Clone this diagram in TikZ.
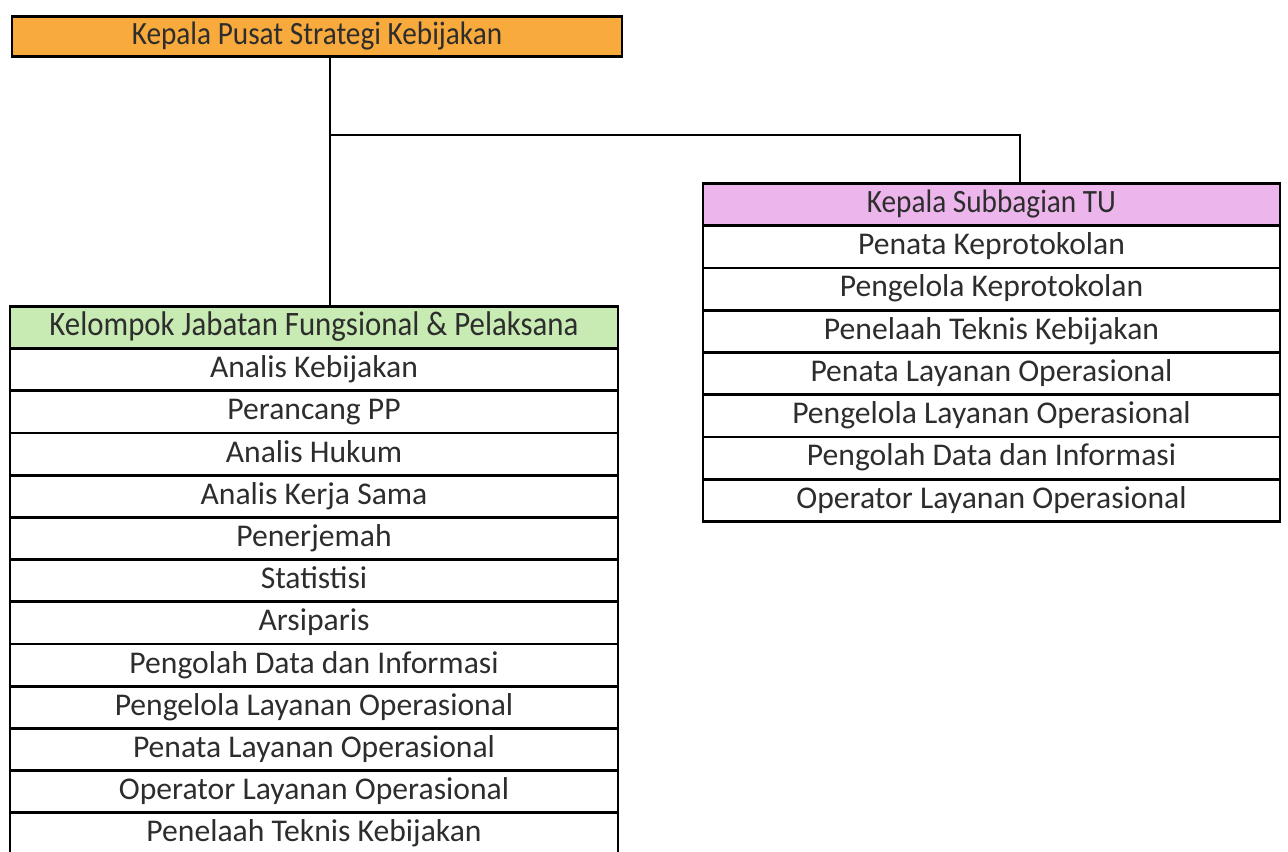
\documentclass[tikz,border=0pt]{standalone}
\usepackage{fontspec}
\setmainfont{Carlito}
\newfontfamily\headfont[FakeStretch=0.9]{Carlito}
\definecolor{kporange}{RGB}{248,170,60}
\definecolor{kjfgreen}{RGB}{200,235,180}
\definecolor{tupink}{RGB}{236,182,236}
\definecolor{rowtext}{RGB}{45,45,45}

\begin{document}
\begin{tikzpicture}[line width=1.6pt]
\tikzstyle{every node}=[draw,inner sep=0pt,anchor=north,text=rowtext,text height=12.5pt,text depth=3.5pt,font=\fontsize{18}{21}\selectfont];
\tikzstyle{leftrow}=[minimum width=12.16cm,minimum height=0.844cm];
\tikzstyle{rightrow}=[minimum width=11.54cm,minimum height=0.845cm];
\useasboundingbox (0,0) rectangle (25.76,-17.02);

\path (6.34,-0.3) node[fill=kporange,minimum width=12.2cm,minimum height=0.8cm,font=\headfont\fontsize{18.5}{21}\selectfont] (kepala) {Kepala Pusat Strategi Kebijakan};

\path (6.28,-6.1) node[leftrow,fill=kjfgreen,font=\headfont\fontsize{19.5}{21}\selectfont] (kjf) {Kelompok Jabatan Fungsional \& Pelaksana};
\foreach \t [count=\i] in {Analis Kebijakan,Perancang PP,Analis Hukum,Analis Kerja Sama,Penerjemah,Statistisi,Arsiparis,Pengolah Data dan Informasi,Pengelola Layanan Operasional,Penata Layanan Operasional,Operator Layanan Operasional,Penelaah Teknis Kebijakan}
{
   \path (6.28,-6.1-0.844*\i) node[leftrow] (kjf\i) {\t};
}

\path (19.83,-3.64) node[rightrow,fill=tupink,font=\headfont\fontsize{18.5}{21}\selectfont] (tu) {Kepala Subbagian TU};
\foreach \t [count=\i] in {Penata Keprotokolan,Pengelola Keprotokolan,Penelaah Teknis Kebijakan,Penata Layanan Operasional,Pengelola Layanan Operasional,Pengolah Data dan Informasi,Operator Layanan Operasional}
{
   \path (19.83,-3.64-0.845*\i) node[rightrow] (tu\i) {\t};
}

\coordinate (cabang) at (6.6,-2.7);
\coordinate (kanan) at (20.4,-2.7);
\draw (kepala.south -| cabang) -- (kjf.north -| cabang)
(cabang) -- (kanan) -- (tu.north -| kanan)
;
\end{tikzpicture}
\end{document}
